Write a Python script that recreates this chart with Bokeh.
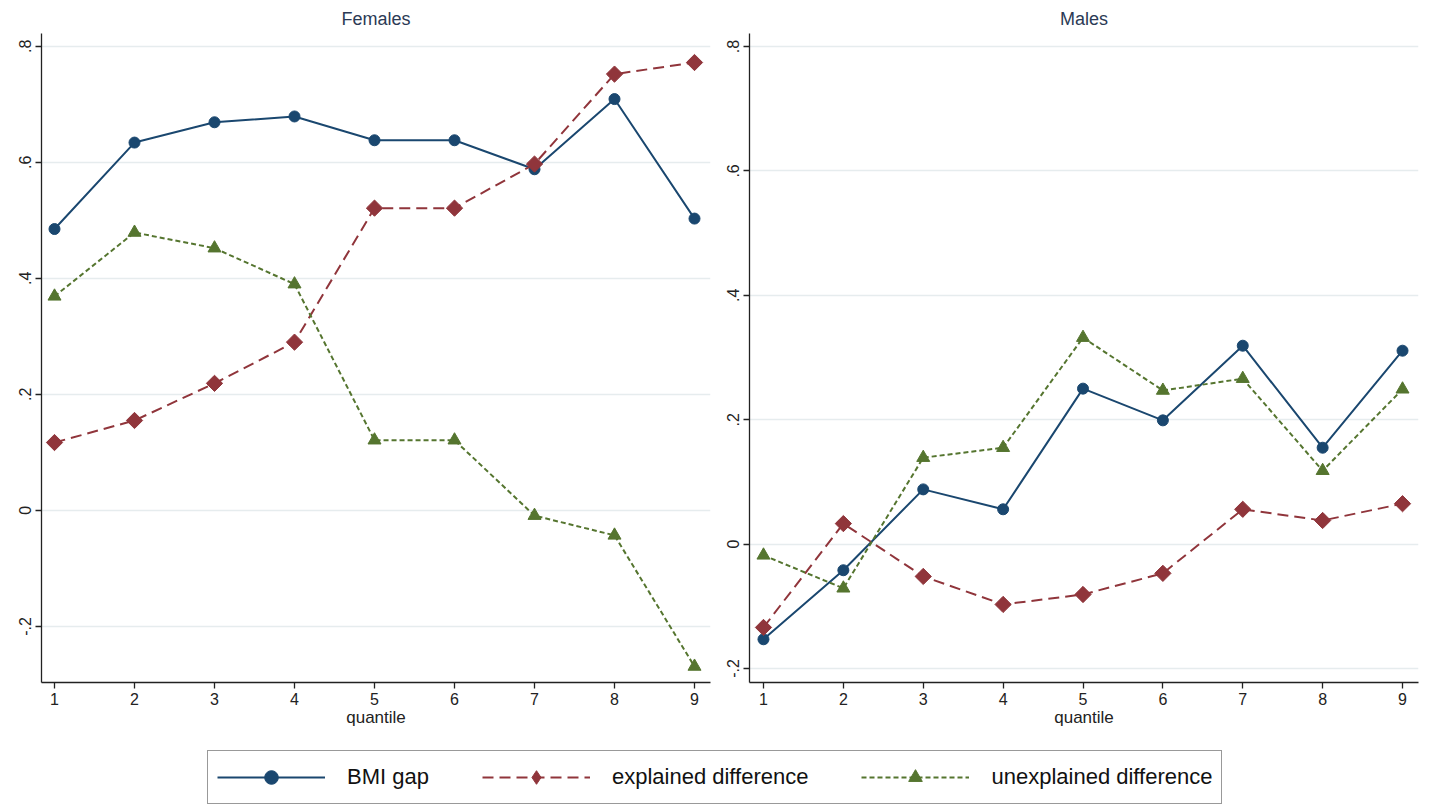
from bokeh.plotting import figure
from bokeh.layouts import column, row
from bokeh.models import FixedTicker, Range1d, Legend, LegendItem
from bokeh.embed import file_html
from bokeh.resources import INLINE

# ---- data ----
quantiles = [1, 2, 3, 4, 5, 6, 7, 8, 9]
fem_gap = [0.485, 0.634, 0.669, 0.679, 0.638, 0.638, 0.588, 0.709, 0.503]
fem_expl = [0.117, 0.155, 0.219, 0.290, 0.521, 0.521, 0.597, 0.752, 0.772]
fem_unexpl = [0.369, 0.479, 0.452, 0.390, 0.121, 0.121, -0.009, -0.043, -0.269]
male_gap = [-0.153, -0.042, 0.088, 0.056, 0.250, 0.199, 0.319, 0.155, 0.311]
male_expl = [-0.134, 0.033, -0.052, -0.097, -0.081, -0.047, 0.056, 0.038, 0.065]
male_unexpl = [-0.018, -0.071, 0.139, 0.155, 0.332, 0.247, 0.266, 0.118, 0.249]

y_ticks = [-0.2, 0.0, 0.2, 0.4, 0.6, 0.8]
y_tick_labels = ["-.2", "0", ".2", ".4", ".6", ".8"]
panel_titles = ["Females", "Males"]
series_names = ["BMI gap", "explained difference", "unexplained difference"]

FONT = "Liberation Sans"
C_GAP = "#1a476f"
C_EXP = "#90353b"
C_UNX = "#55752f"
DIAMOND_ANGLE = 0.7854


def add_series(p, xs, gap, expl, unexpl, legend_mode=False):
    r = []
    r.append(p.line(xs, gap, line_color=C_GAP, line_width=2))
    r.append(p.scatter(xs, gap, marker="circle", size=11, fill_color=C_GAP, line_color=C_GAP))
    r.append(p.line(xs, expl, line_color=C_EXP, line_width=2, line_dash="11 6"))
    if legend_mode:
        r.append(p.scatter(xs, expl, marker="diamond", size=16,
                           fill_color=C_EXP, line_color=C_EXP))
    else:
        r.append(p.scatter(xs, expl, marker="square", angle=DIAMOND_ANGLE, size=11.5,
                           fill_color=C_EXP, line_color=C_EXP))
    r.append(p.line(xs, unexpl, line_color=C_UNX, line_width=2, line_dash="5 3"))
    r.append(p.scatter(xs, unexpl, marker="triangle", size=13, fill_color=C_UNX, line_color=C_UNX))
    return r


def make_panel(title, gap, expl, unexpl, y_range, x_range, width, border_left, border_right):
    p = figure(width=width, height=740, output_backend="svg", toolbar_location=None,
               title=title, x_range=Range1d(*x_range), y_range=Range1d(*y_range),
               min_border_left=border_left, min_border_right=border_right,
               min_border_top=33, min_border_bottom=58)
    p.title.align = "center"
    p.title.text_font = FONT
    p.title.text_font_size = "18px"
    p.title.text_font_style = "normal"
    p.title.text_color = "#2b3a55"
    p.title.standoff = 9
    p.outline_line_color = None
    p.background_fill_color = "white"
    p.border_fill_color = "white"

    p.xgrid.visible = False
    p.ygrid.grid_line_color = "#e6ecee"
    p.ygrid.grid_line_width = 1.5

    p.xaxis.ticker = FixedTicker(ticks=quantiles)
    p.yaxis.ticker = FixedTicker(ticks=y_ticks)
    p.yaxis.major_label_overrides = {t: l for t, l in zip(y_ticks, y_tick_labels)}
    p.yaxis.major_label_orientation = "vertical"
    p.xaxis.axis_label = "quantile"
    p.xaxis.axis_label_text_font = FONT
    p.xaxis.axis_label_text_font_size = "17px"
    p.xaxis.axis_label_text_font_style = "normal"
    p.xaxis.axis_label_text_color = "#222222"
    p.xaxis.axis_label_standoff = 0
    for ax in (p.xaxis, p.yaxis):
        ax.axis_line_color = "#222222"
        ax.axis_line_width = 1.3
        ax.major_tick_line_color = "#222222"
        ax.major_tick_line_width = 1.3
        ax.major_tick_out = 6
        ax.major_tick_in = 0
        ax.minor_tick_line_color = None
        ax.major_label_text_font = FONT
        ax.major_label_text_font_size = "16px"
        ax.major_label_text_color = "#222222"
        ax.major_label_standoff = 4

    add_series(p, quantiles, gap, expl, unexpl)
    return p


p1 = make_panel(panel_titles[0], fem_gap, fem_expl, fem_unexpl,
                (-0.2966, 0.822), (0.8375, 9.2), 716, 41, 6)
p2 = make_panel(panel_titles[1], male_gap, male_expl, male_unexpl,
                (-0.2225, 0.821), (0.825, 9.2), 705, 33, 3)

# ---- legend strip (renderers sit outside the visible range) ----
pl = figure(width=1421, height=66, output_backend="svg", toolbar_location=None,
            x_axis_type=None, y_axis_type=None, min_border=0,
            x_range=Range1d(0, 1), y_range=Range1d(0, 1))
pl.outline_line_color = None
pl.grid.visible = False
pl.border_fill_color = "white"
off = [-50, -49]
lr = add_series(pl, off, off, off, off, legend_mode=True)
legend = Legend(items=[LegendItem(label=series_names[0], renderers=[lr[0], lr[1]]),
                       LegendItem(label=series_names[1], renderers=[lr[2], lr[3]]),
                       LegendItem(label=series_names[2], renderers=[lr[4], lr[5]])],
                orientation="horizontal", location=(207, 2),
                label_text_font=FONT, label_text_font_size="22px",
                label_text_color="#111111",
                glyph_width=108, glyph_height=34, label_standoff=22, spacing=53,
                padding=9, margin=0,
                border_line_color="#333333", border_line_width=1.3,
                background_fill_color="white", background_fill_alpha=1)
pl.add_layout(legend, "center")

layout = column(row(p1, p2), pl)
open("out.html", "w").write(file_html(layout, INLINE))
